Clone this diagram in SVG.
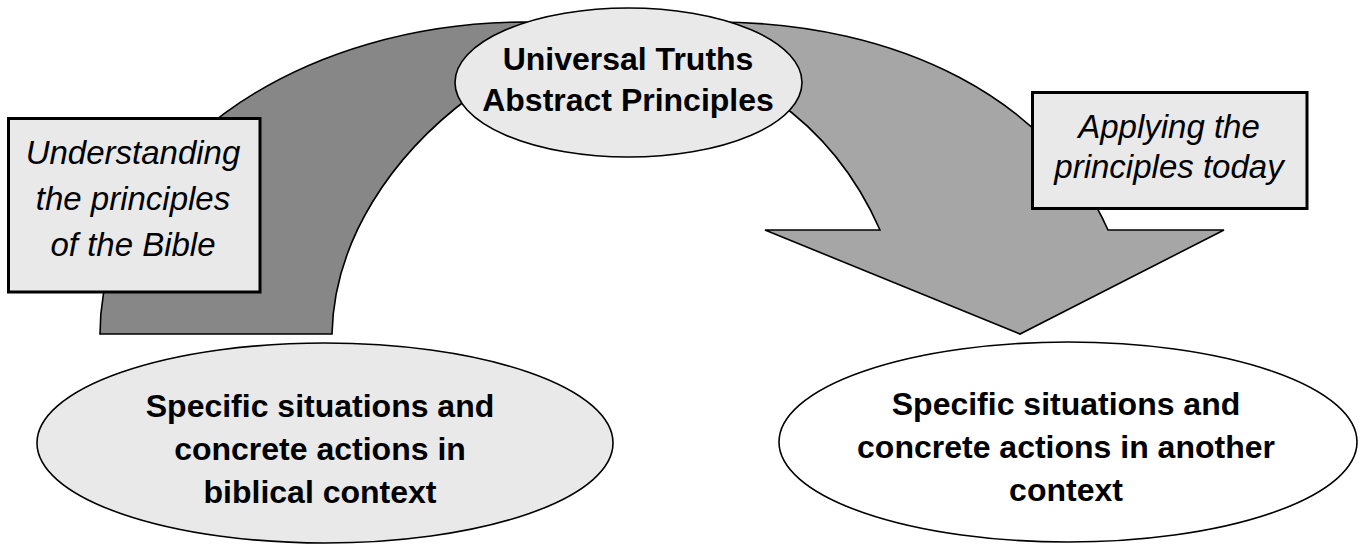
<svg xmlns="http://www.w3.org/2000/svg" width="1363" height="545" viewBox="0 0 1363 545">
<style>
.arrow{stroke:#000;stroke-width:1.6;stroke-linejoin:miter}
.ell{stroke:#000;stroke-width:1.6}
.box{fill:#e9e9e9;stroke:#000;stroke-width:3}
.bold{font-family:"Liberation Sans",Arial,sans-serif;font-weight:bold;font-size:32px;fill:#000;text-anchor:middle}
.ital{font-family:"Liberation Sans",Arial,sans-serif;font-style:italic;font-size:33px;fill:#000;text-anchor:middle}
</style>
<rect width="1363" height="545" fill="#fff"/>
<g id="connectors">
<path id="arrow-left" class="arrow" fill="#878787" d="M100,334 A425,312 0 0 1 525,22 L548,24 L470,97 C392,155 334,240 332,334 Z"/>
<path id="arrow-right" class="arrow" fill="#a6a6a6" d="M715,22 C900,22 1050,100 1108,230 L1224,230 L1020,334 L765,230 L880,230 C858,180 825,135 775,100 Z"/>
</g>
<g id="node-universal">
<ellipse class="ell" cx="628.5" cy="82.5" rx="173.5" ry="74.5" fill="#e9e9e9"/>
<text class="bold" x="628" y="70">Universal Truths</text>
<text class="bold" x="628" y="111">Abstract Principles</text>
</g>
<g id="label-understanding">
<rect class="box" x="8.5" y="118.5" width="251.5" height="173.5"/>
<text class="ital" x="133" y="164">Understanding</text>
<text class="ital" x="133" y="210">the principles</text>
<text class="ital" x="133" y="256">of the Bible</text>
</g>
<g id="label-applying">
<rect class="box" x="1032.5" y="92.5" width="274.5" height="116"/>
<text class="ital" x="1169" y="138">Applying the</text>
<text class="ital" x="1169" y="178">principles today</text>
</g>
<g id="node-biblical">
<ellipse class="ell" cx="325" cy="443" rx="288" ry="100" fill="#e9e9e9"/>
<text class="bold" x="320" y="417">Specific situations and</text>
<text class="bold" x="320" y="460">concrete actions in</text>
<text class="bold" x="320" y="503">biblical context</text>
</g>
<g id="node-another">
<ellipse class="ell" cx="1068" cy="442" rx="289" ry="100" fill="#fff"/>
<text class="bold" x="1066" y="415">Specific situations and</text>
<text class="bold" x="1066" y="458">concrete actions in another</text>
<text class="bold" x="1066" y="501">context</text>
</g>
</svg>
